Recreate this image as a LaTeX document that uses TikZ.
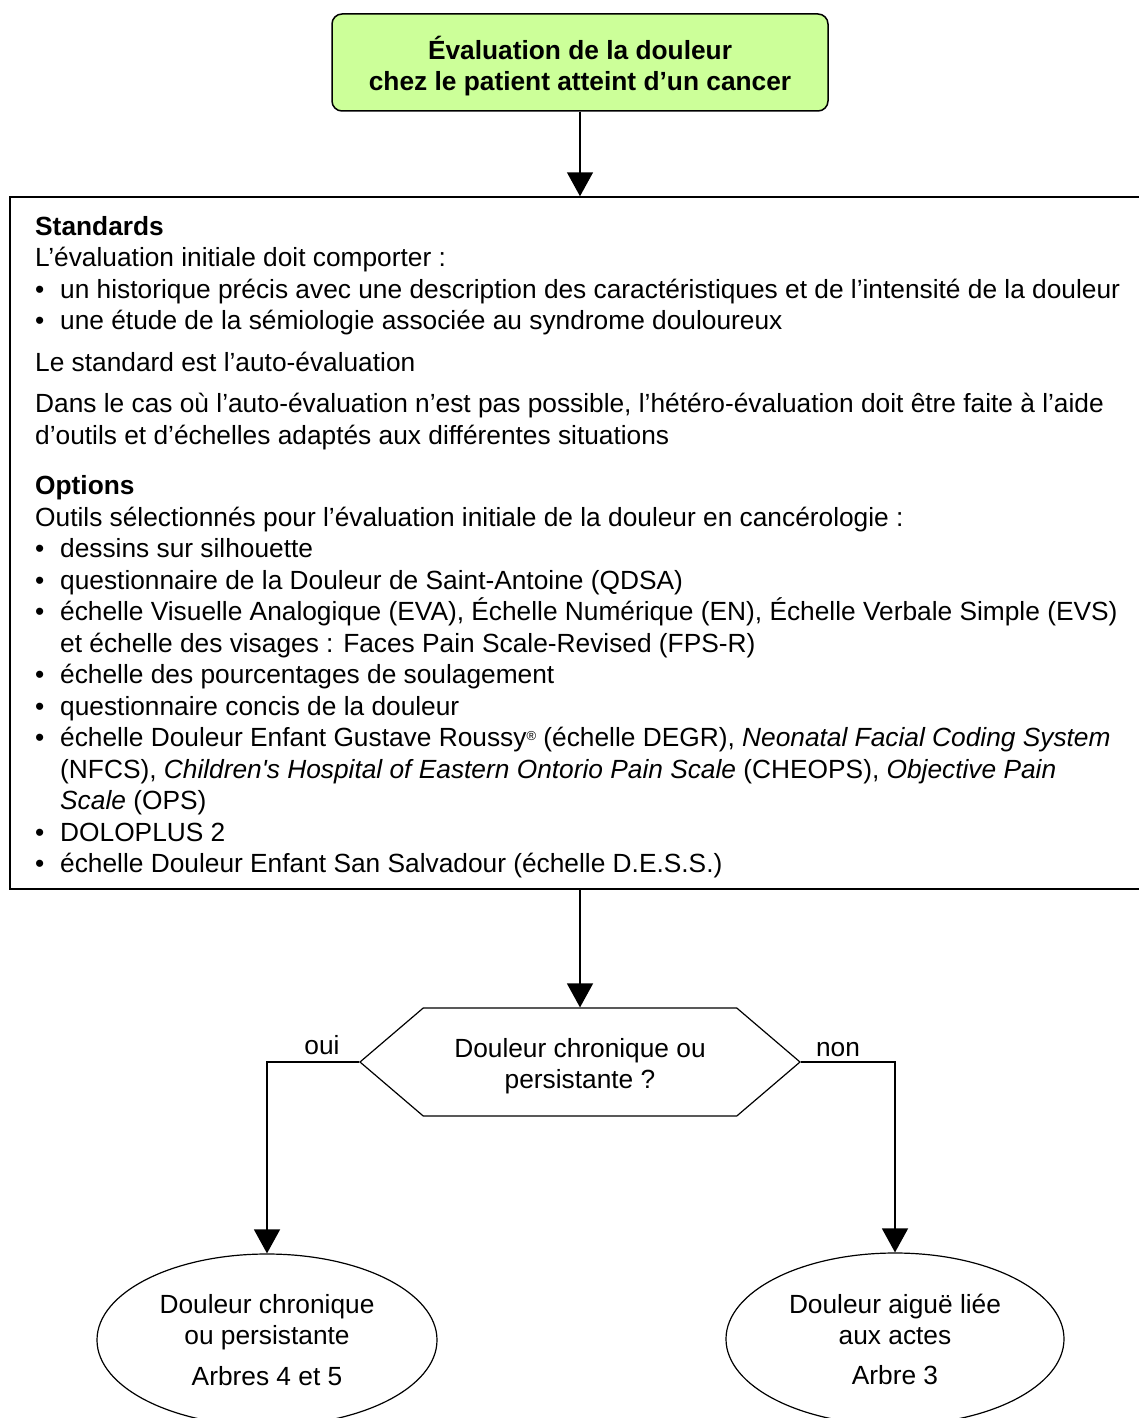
\documentclass[tikz,border=0pt]{standalone}
\usepackage{fontspec}
\setmainfont{Liberation Sans}
\usetikzlibrary{arrows.meta,shapes.geometric,shapes.symbols}
\definecolor{titlegreen}{HTML}{CCFF99}
\newcommand\bul{\makebox[25pt][l]{•}}
\newcommand\ind{\hspace*{25pt}}
\begin{document}
\begin{tikzpicture}[x=1pt,y=-1pt,
  arr/.style={-{Triangle[length=24pt,width=26pt]}, line width=1.5pt},
  boxline/.style={draw, line width=1.5pt},
  txt/.style={font=\fontsize{26.3}{31.5}\selectfont},
]
\useasboundingbox (0,0) rectangle (1139,1418);
\clip (0,0) rectangle (1139,1418);
\node[boxline, fill=titlegreen, rounded corners=10pt, minimum width=496pt, minimum height=97pt] (title) at (580,62.5) {};
\node[align=center, inner sep=0pt, font=\fontsize{26.3}{31.5}\selectfont\bfseries] (titletext) at (580,66) {Évaluation de la douleur\\chez le patient atteint d’un cancer};
\node[boxline, minimum width=1160pt, minimum height=692pt, inner sep=0pt] (box) at (590,543) {};
\node[anchor=north west, inner sep=0pt, align=left, txt] (boxtext) at (35,216) {%
\textbf{Standards}\\
L’évaluation initiale doit comporter :\\
\bul un historique précis avec une description des caractéristiques et de l’intensité de la douleur\\
\bul une étude de la sémiologie associée au syndrome douloureux\\[10pt]
Le standard est l’auto-évaluation\\[10pt]
Dans le cas où l’auto-évaluation n’est pas possible, l’hétéro-évaluation doit être faite à l’aide\\
d’outils et d’échelles adaptés aux différentes situations\\[19pt]
\textbf{Options}\\
Outils sélectionnés pour l’évaluation initiale de la douleur en cancérologie :\\
\bul dessins sur silhouette\\
\bul questionnaire de la Douleur de Saint-Antoine (QDSA)\\
\bul échelle Visuelle Analogique (EVA), Échelle Numérique (EN), Échelle Verbale Simple (EVS)\\
\ind et échelle des visages : Faces Pain Scale-Revised (FPS-R)\\
\bul échelle des pourcentages de soulagement\\
\bul questionnaire concis de la douleur\\
\bul échelle Douleur Enfant Gustave Roussy\raisebox{6pt}{\fontsize{13}{13}\selectfont ®} (échelle DEGR), \textit{Neonatal Facial Coding System}\\
\ind (NFCS), \textit{Children\textquotesingle s Hospital of Eastern Ontorio Pain Scale} (CHEOPS), \textit{Objective Pain}\\
\ind \textit{Scale} (OPS)\\
\bul DOLOPLUS 2\\
\bul échelle Douleur Enfant San Salvadour (échelle D.E.S.S.)};
\node[draw, line width=1.2pt, signal, signal to=west and east, signal pointer angle=81, minimum width=440pt, minimum height=108pt, inner sep=0pt] (hex) at (580,1062) {};
\node[align=center, inner sep=0pt, txt] (hextext) at (580,1066) {Douleur chronique ou\\persistante ?};
\node[draw, line width=1.2pt, ellipse, minimum width=340pt, minimum height=172pt, inner sep=0pt, align=center, txt] (ell1) at (267,1340) {Douleur chronique\\ou persistante\\[9pt]Arbres 4 et 5};
\node[draw, line width=1.2pt, ellipse, minimum width=338pt, minimum height=172pt, inner sep=0pt, align=center, txt] (ell2) at (895,1339) {Douleur aiguë liée\\aux actes\\[8pt]Arbre 3};
\node[txt, inner sep=0pt] (oui) at (322,1045) {oui};
\node[txt, inner sep=0pt] (non) at (838,1050) {non};
\draw[arr] (title.south) -- (title.south |- box.north);
\draw[arr] (hex.north |- box.south) -- (hex.north);
\draw[arr] (hex.west) -| (ell1.north);
\draw[arr] (hex.east) -| (ell2.north);
\end{tikzpicture}
\end{document}
